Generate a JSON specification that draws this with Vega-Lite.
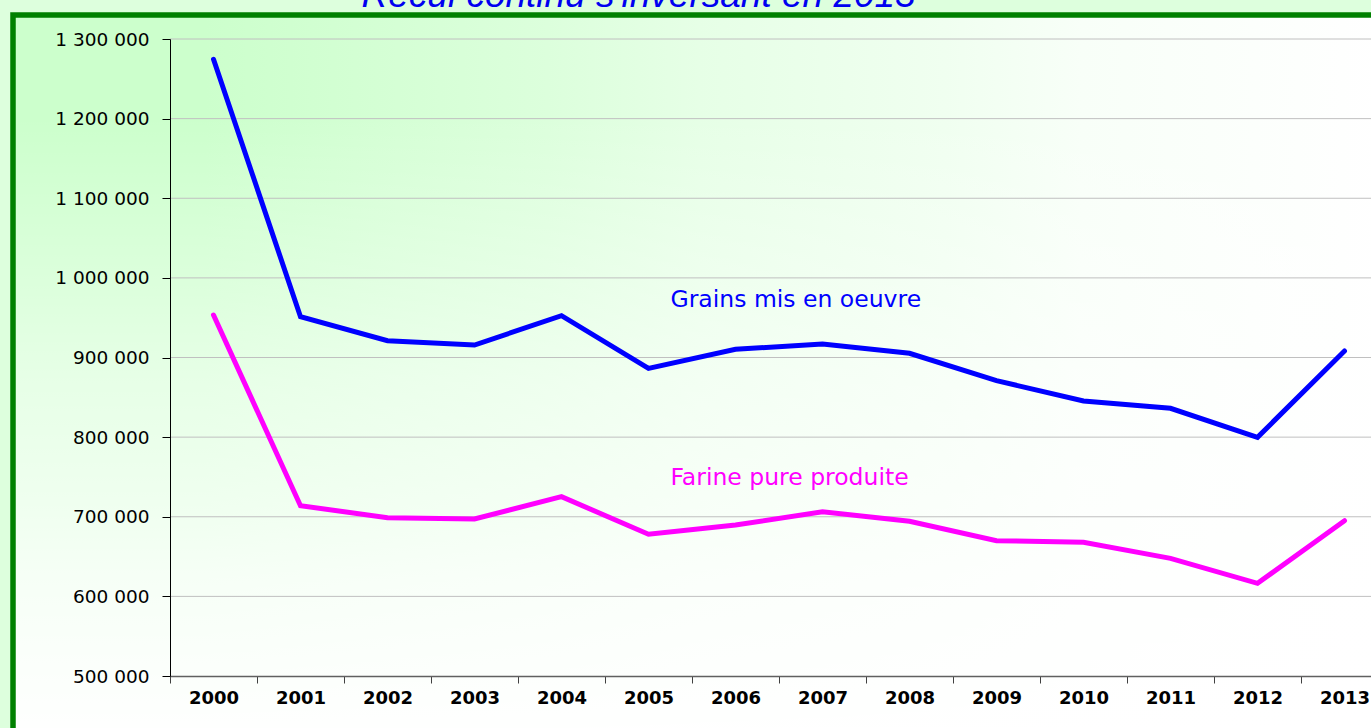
{
  "$schema": "https://vega.github.io/schema/vega-lite/v6.json",
  "width": 1371,
  "height": 728,
  "autosize": {"type": "none"},
  "padding": {"left": 13, "top": 15, "right": 0, "bottom": 0},
  "background": "#DDFFDD",
  "config": {
    "locale": {"number": {"decimal": ",", "thousands": " ", "grouping": [3], "currency": ["", " €"]}},
    "view": {"stroke": null}
  },
  "layer": [
    {
      "data": {"values": [{}]},
      "mark": {
        "type": "rect",
        "fill": {
          "gradient": "linear", "x1": 0, "y1": 0, "x2": 1, "y2": 0,
          "stops": [
            {"offset": 0, "color": "#CCFFCC"},
            {"offset": 0.14, "color": "#CCFFCC"},
            {"offset": 0.39, "color": "#DCFFDC"},
            {"offset": 0.5, "color": "#E6FFE6"},
            {"offset": 0.68, "color": "#F0FFF0"},
            {"offset": 0.78, "color": "#F8FFF8"},
            {"offset": 1, "color": "#FFFFFF"}
          ]
        }
      },
      "encoding": {}
    },
    {
      "data": {"values": [{}]},
      "mark": {
        "type": "rect",
        "fill": {
          "gradient": "linear", "x1": 0, "y1": 0, "x2": 0, "y2": 1,
          "stops": [
            {"offset": 0, "color": "rgba(255,255,255,0)"},
            {"offset": 0.14, "color": "rgba(255,255,255,0)"},
            {"offset": 0.39, "color": "rgba(255,255,255,0.35)"},
            {"offset": 0.5, "color": "rgba(255,255,255,0.52)"},
            {"offset": 0.68, "color": "rgba(255,255,255,0.7)"},
            {"offset": 0.78, "color": "rgba(255,255,255,0.84)"},
            {"offset": 1, "color": "rgba(255,255,255,1)"}
          ]
        },
        "stroke": "#008000",
        "strokeWidth": 5.5
      },
      "encoding": {}
    },
    {
      "data": {"values": [
        {"g": 600000}, {"g": 700000}, {"g": 800000}, {"g": 900000},
        {"g": 1000000}, {"g": 1100000}, {"g": 1200000}, {"g": 1300000}
      ]},
      "mark": {"type": "rule", "color": "#C0C0C0", "strokeWidth": 1},
      "encoding": {
        "y": {"field": "g", "type": "quantitative"},
        "x": {"datum": "2000", "type": "ordinal", "bandPosition": 0},
        "x2": {"datum": "2013", "bandPosition": 1}
      }
    },
    {
      "data": {"values": [
        {"year": "2000", "series": "Grains mis en oeuvre", "value": 1274500},
        {"year": "2001", "series": "Grains mis en oeuvre", "value": 951200},
        {"year": "2002", "series": "Grains mis en oeuvre", "value": 921100},
        {"year": "2003", "series": "Grains mis en oeuvre", "value": 915700},
        {"year": "2004", "series": "Grains mis en oeuvre", "value": 952500},
        {"year": "2005", "series": "Grains mis en oeuvre", "value": 886400},
        {"year": "2006", "series": "Grains mis en oeuvre", "value": 910300},
        {"year": "2007", "series": "Grains mis en oeuvre", "value": 917000},
        {"year": "2008", "series": "Grains mis en oeuvre", "value": 905300},
        {"year": "2009", "series": "Grains mis en oeuvre", "value": 870900},
        {"year": "2010", "series": "Grains mis en oeuvre", "value": 845400},
        {"year": "2011", "series": "Grains mis en oeuvre", "value": 836200},
        {"year": "2012", "series": "Grains mis en oeuvre", "value": 799800},
        {"year": "2013", "series": "Grains mis en oeuvre", "value": 908200},
        {"year": "2000", "series": "Farine pure produite", "value": 953400},
        {"year": "2001", "series": "Farine pure produite", "value": 713900},
        {"year": "2002", "series": "Farine pure produite", "value": 698800},
        {"year": "2003", "series": "Farine pure produite", "value": 697200},
        {"year": "2004", "series": "Farine pure produite", "value": 725200},
        {"year": "2005", "series": "Farine pure produite", "value": 678000},
        {"year": "2006", "series": "Farine pure produite", "value": 689600},
        {"year": "2007", "series": "Farine pure produite", "value": 706300},
        {"year": "2008", "series": "Farine pure produite", "value": 694300},
        {"year": "2009", "series": "Farine pure produite", "value": 669900},
        {"year": "2010", "series": "Farine pure produite", "value": 667900},
        {"year": "2011", "series": "Farine pure produite", "value": 647800},
        {"year": "2012", "series": "Farine pure produite", "value": 616400},
        {"year": "2013", "series": "Farine pure produite", "value": 695000}
      ]},
      "mark": {"type": "line", "strokeWidth": 5, "strokeCap": "round"},
      "encoding": {
        "x": {
          "field": "year", "type": "ordinal",
          "scale": {
            "type": "band",
            "domain": ["2000","2001","2002","2003","2004","2005","2006","2007","2008","2009","2010","2011","2012","2013"],
            "range": [157, 1375],
            "paddingInner": 0, "paddingOuter": 0
          },
          "axis": {
            "title": null,
            "labelAngle": 0,
            "labelAlign": "center",
            "offset": -67,
            "tickBand": "extent",
            "grid": false,
            "zindex": 1,
            "domainColor": "#606060",
            "domainWidth": 1.5,
            "tickColor": "#404040",
            "tickWidth": 1,
            "tickSize": 7,
            "labelFont": "DejaVu Sans",
            "labelFontWeight": "bold",
            "labelFontSize": 18,
            "labelColor": "#000000",
            "labelPadding": 15,
            "labelOverlap": false
          }
        },
        "y": {
          "field": "value", "type": "quantitative",
          "scale": {"domain": [500000, 1300000], "range": [661, 24], "nice": false, "zero": false},
          "axis": {
            "title": null,
            "values": [500000, 600000, 700000, 800000, 900000, 1000000, 1100000, 1200000, 1300000],
            "format": ",.0f",
            "offset": -157,
            "grid": false,
            "zindex": 1,
            "domainColor": "#000000",
            "domainWidth": 1,
            "tickColor": "#000000",
            "tickSize": 8,
            "labelFont": "DejaVu Sans",
            "labelFontSize": 18.5,
            "labelColor": "#000000",
            "labelPadding": 13,
            "labelOverlap": false
          }
        },
        "color": {
          "field": "series", "type": "nominal",
          "scale": {"domain": ["Grains mis en oeuvre", "Farine pure produite"], "range": ["#0000FF", "#FF00FF"]},
          "legend": null
        }
      }
    },
    {
      "data": {"values": [
        {"year": "2005", "value": 964000, "label": "Grains mis en oeuvre"},
        {"year": "2005", "value": 740000, "label": "Farine pure produite"}
      ]},
      "mark": {"type": "text", "align": "left", "baseline": "alphabetic", "dx": 22, "font": "DejaVu Sans", "fontSize": 23.5},
      "encoding": {
        "x": {"field": "year", "type": "ordinal"},
        "y": {"field": "value", "type": "quantitative"},
        "text": {"field": "label"},
        "color": {"field": "label", "type": "nominal", "legend": null}
      }
    },
    {
      "data": {"values": [
        {"year": "2002", "value": 1340500, "label": "Recul continu s'inversant en 2013"}
      ]},
      "mark": {"type": "text", "align": "left", "baseline": "alphabetic", "dx": -26, "font": "Liberation Sans", "fontStyle": "italic", "fontSize": 37, "color": "#0000F0"},
      "encoding": {
        "x": {"field": "year", "type": "ordinal"},
        "y": {"field": "value", "type": "quantitative"},
        "text": {"field": "label"}
      }
    }
  ]
}
